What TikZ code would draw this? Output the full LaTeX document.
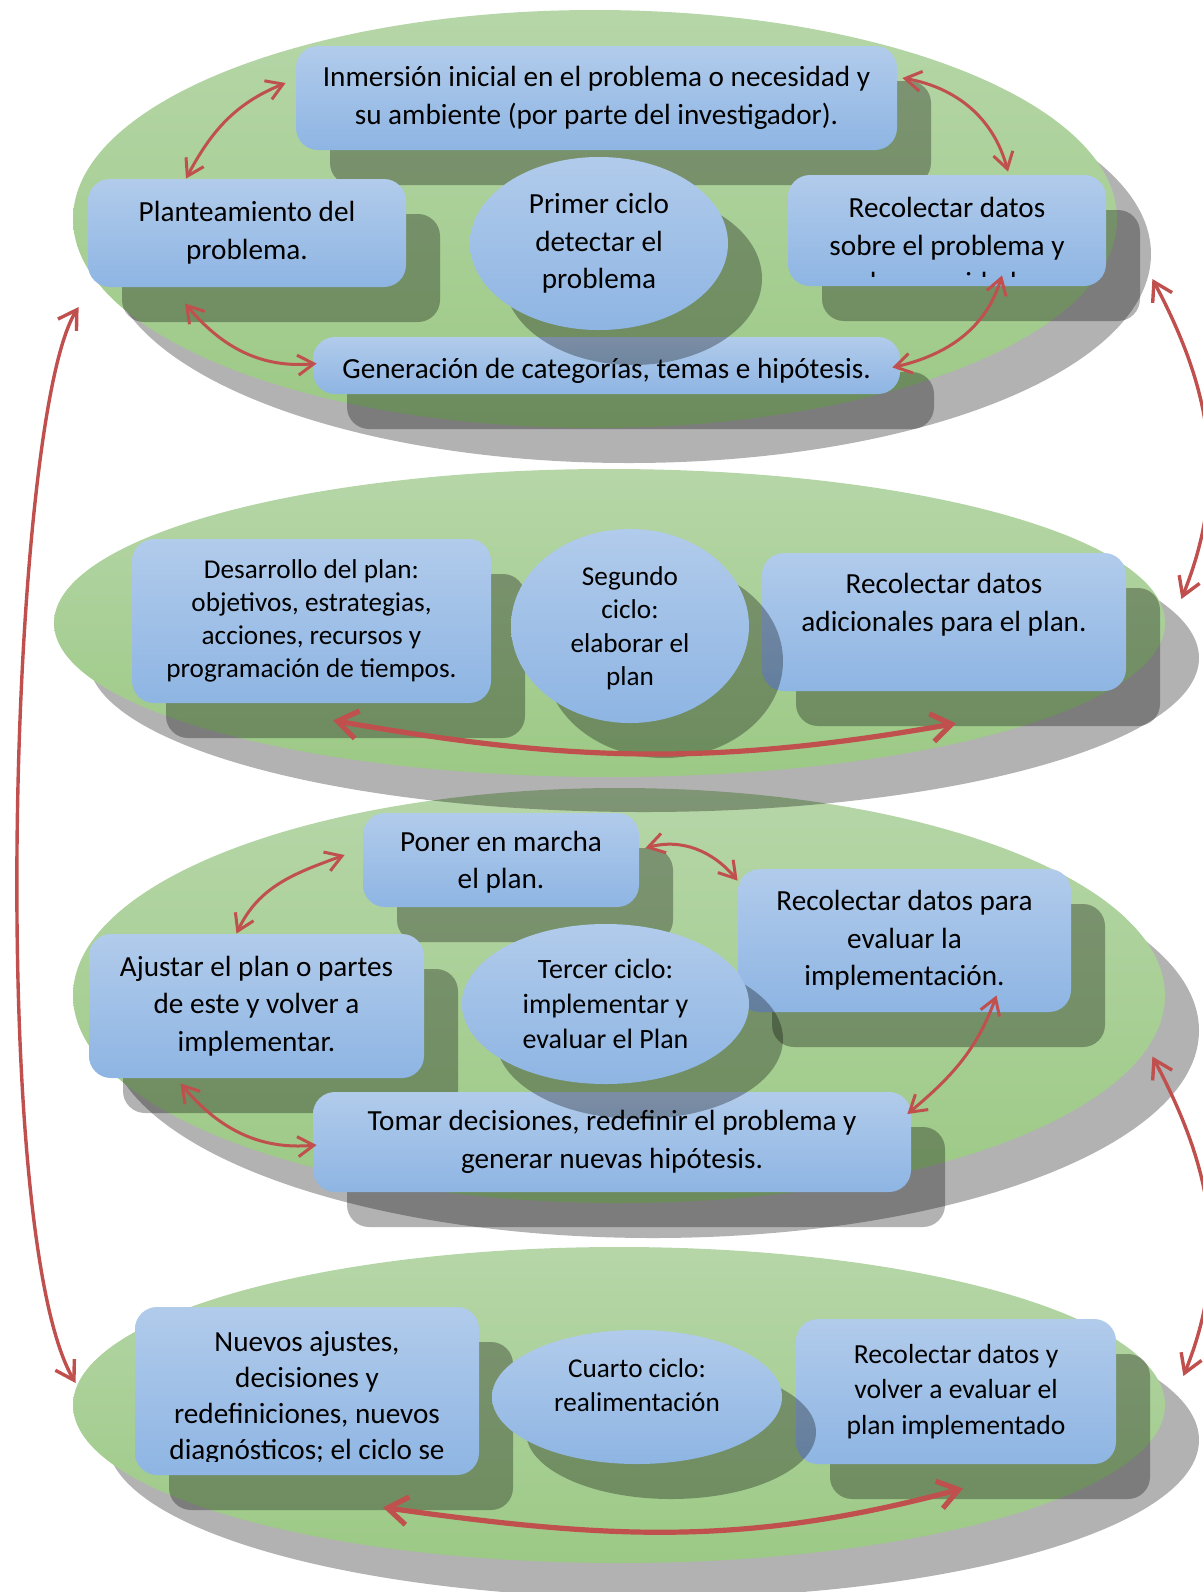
\documentclass[tikz,border=0pt]{standalone}
\usepackage{fontspec}
\setmainfont{Carlito}
\usepackage{tikz}
\usetikzlibrary{shapes.geometric, arrows.meta, shadows}

\definecolor{greentop}{RGB}{182,214,168}
\definecolor{greenbot}{RGB}{156,201,133}
\definecolor{bluetop}{RGB}{177,203,235}
\definecolor{bluebot}{RGB}{142,181,227}
\definecolor{arrowred}{RGB}{192,80,77}

\newcommand{\bigtxt}{\fontsize{14.6}{18.8}\selectfont}
\newcommand{\smalltxt}{\fontsize{13.6}{16.6}\selectfont}

\begin{document}
\begin{tikzpicture}[
    x=0.5pt, y=-0.5pt,
    shade3d/.style={drop shadow={shadow xshift=17pt, shadow yshift=-17.5pt, fill=black, opacity=0.3}},
    layer/.style={ellipse, inner sep=0pt, top color=greentop, bottom color=greenbot, shade3d},
    stepbox/.style={rectangle, rounded corners=11pt, inner sep=0pt, top color=bluetop, bottom color=bluebot, shade3d, align=center, font=\bigtxt, execute at begin node={\rule{0pt}{15.5pt}}},
    cyclenode/.style={ellipse, inner sep=0pt, top color=bluetop, bottom color=bluebot, shade3d, align=center, font=\smalltxt, execute at begin node={\rule{0pt}{15.5pt}}},
    link/.style={draw=arrowred, line width=1.5pt, <->, >={Straight Barb[length=8pt, width=10pt]}},
    flow/.style={draw=arrowred, line width=2.6pt, <->, >={Straight Barb[length=10pt, width=14pt]}},
    sideloop/.style={draw=arrowred, line width=1.7pt, <->, >={Straight Barb[length=9pt, width=11pt]}}
]
\useasboundingbox (0,0) rectangle (1203,1592);

% Layers are drawn from the bottom up, so each shadow falls on the layer below

% Fourth cycle
\node[layer, minimum width=546pt, minimum height=158pt] (lay4) at (619,1405) {};
\node[stepbox, minimum width=172pt, minimum height=84pt] (nuevos) at (307,1391) {};
\begin{scope}
  \clip (135,1307) rectangle (479,1461);
  \node[align=center, font=\fontsize{14.6}{17.9}\selectfont] (nuevostxt) at (307,1398) {Nuevos ajustes,\\decisiones y\\redefiniciones, nuevos\\diagnósticos; el ciclo se};
\end{scope}
\node[stepbox, minimum width=160pt, minimum height=72.5pt, font=\fontsize{13.8}{17.8}\selectfont] (recol4) at (956,1391.5) {Recolectar datos y\\volver a evaluar el\\plan implementado};
\node[cyclenode, minimum width=145pt, minimum height=67pt, text depth=12pt] (cuarto) at (637,1397) {Cuarto ciclo:\\realimentación};

% Third cycle
\node[layer, minimum width=546pt, minimum height=207.5pt] (lay3) at (619,995.5) {};
\node[stepbox, minimum width=138pt, minimum height=47pt, text depth=0pt] (poner) at (501,860) {Poner en marcha\\el plan.};
\node[stepbox, minimum width=166.5pt, minimum height=71.5pt] (recolE) at (904.5,940.5) {Recolectar datos para\\evaluar la\\implementación.};
\node[stepbox, minimum width=167.5pt, minimum height=72pt] (ajustar) at (256.5,1006) {Ajustar el plan o partes\\de este y volver a\\implementar.};
\node[stepbox, minimum width=299pt, minimum height=50pt] (tomar) at (612,1142) {Tomar decisiones, redefinir el problema y\\generar nuevas hipótesis.};
\node[cyclenode, minimum width=143.5pt, minimum height=80pt, font=\fontsize{14}{17.5}\selectfont] (tercer) at (605.5,1004) {Tercer ciclo:\\implementar y\\evaluar el Plan};

% Second cycle
\node[layer, minimum width=555.5pt, minimum height=154pt] (lay2) at (609.5,623) {};
\node[stepbox, minimum width=179.5pt, minimum height=82pt, font=\smalltxt] (desarr) at (311.5,621) {Desarrollo del plan:\\objetivos, estrategias,\\acciones, recursos y\\programación de tiempos.};
\node[stepbox, minimum width=182pt, minimum height=69pt, text depth=19.5pt] (recol2) at (944,622) {Recolectar datos\\adicionales para el plan.};
\node[cyclenode, minimum width=119pt, minimum height=97pt, text depth=0pt] (segundo) at (630,626) {Segundo\\ciclo:\\elaborar el\\plan};

% First cycle
\node[layer, minimum width=522pt, minimum height=209pt] (lay1) at (595,219) {};
\node[stepbox, minimum width=300.5pt, minimum height=52pt] (inmersion) at (596.5,98) {Inmersión inicial en el problema o necesidad y\\su ambiente (por parte del investigador).};
\node[stepbox, minimum width=159pt, minimum height=54pt] (plantea) at (247,233) {Planteamiento del\\problema.};
\node[stepbox, minimum width=159pt, minimum height=55.5pt] (recol1) at (947,230.5) {};
\begin{scope}
  \clip (788,175) rectangle (1106,276);
  \node[align=center, font=\bigtxt] (recol1txt) at (947,245) {Recolectar datos\\sobre el problema y\\la necesidad.};
\end{scope}
\node[stepbox, minimum width=293.5pt, minimum height=28.5pt] (gener) at (606.5,365.5) {Generación de categorías, temas e hipótesis.};
\node[cyclenode, minimum width=129pt, minimum height=86.5pt, font=\bigtxt] (primer) at (599,243.5) {Primer ciclo\\detectar el\\problema};

% Links inside the first cycle
\draw[link] ([xshift=-30.5pt]plantea.north) to[out=62, in=202] ([xshift=-5pt, yshift=7.5pt]inmersion.west);
\draw[link] ([xshift=2.5pt, yshift=10pt]inmersion.east) to[out=-10, in=105] ([xshift=30.5pt, yshift=1.5pt]recol1.north);
\draw[link] ([xshift=-31pt, yshift=-8pt]plantea.south) to[out=-50, in=185] ([xshift=2pt, yshift=1pt]gener.west);
\draw[link] ([xshift=27.5pt, yshift=5.5pt]recol1.south) to[out=253, in=13] ([xshift=-4pt, yshift=-1pt]gener.east);

% Second cycle
\draw[flow] ([xshift=10.75pt, yshift=-8.5pt]desarr.south) to[out=-10, in=190] ([xshift=6pt, yshift=-16pt]recol2.south);

% Third cycle
\draw[link] ([xshift=-10pt]ajustar.north) to[out=65, in=200] ([xshift=-9pt, yshift=2.5pt]poner.west);
\draw[link] ([xshift=3pt, yshift=6pt]poner.east) to[out=15, in=130] ([yshift=-6pt]recolE.north west);
\draw[link] ([xshift=-38pt, yshift=-2.5pt]ajustar.south) to[out=-50, in=185] ([xshift=2pt, yshift=-1.5pt]tomar.west);
\draw[link] ([xshift=46pt, yshift=8.5pt]recolE.south) to[out=250, in=40] ([xshift=-2pt, yshift=14pt]tomar.east);

% Fourth cycle
\draw[flow] ([xshift=38pt, yshift=-16pt]nuevos.south) to[out=-8, in=195] ([xshift=3.5pt, yshift=-12pt]recol4.south);

% Loops between the cycles
\draw[sideloop] ([xshift=17.5pt, yshift=-30pt]lay1.east) to[out=-62, in=68] ([xshift=8pt, yshift=12pt]lay2.east);
\draw[sideloop] ([xshift=-6.5pt, yshift=-30.5pt]lay3.east) to[out=-62, in=68] ([xshift=9pt, yshift=14.5pt]lay4.east);
\draw[sideloop] ([xshift=3pt, yshift=-44pt]lay1.west) .. controls +(-70,110) and +(-88,-150) .. ([xshift=1.5pt, yshift=11pt]lay4.west);
\end{tikzpicture}
\end{document}
